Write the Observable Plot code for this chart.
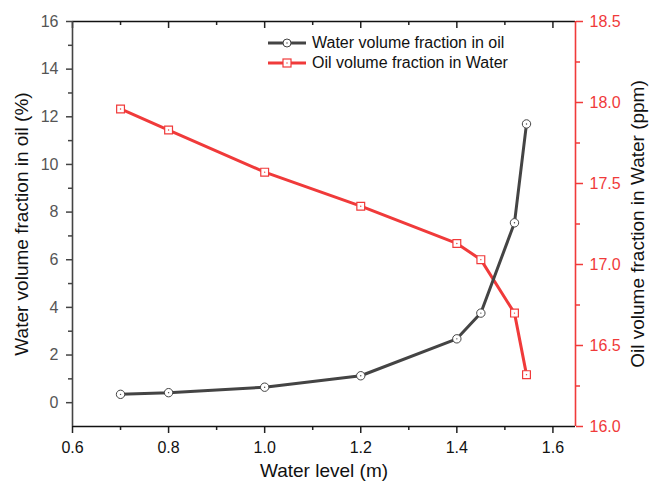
<!DOCTYPE html>
<html><head><meta charset="utf-8">
<script src="https://cdn.jsdelivr.net/npm/d3@7"></script>
<script src="https://cdn.jsdelivr.net/npm/@observablehq/plot@0.6"></script>
<style>
body{margin:0;background:#fff;font-family:"Liberation Sans",Arial,sans-serif}
#wrap{position:relative;width:649px;height:489px}
#legend{position:absolute;left:266px;top:33px;font-size:16px;color:#111;line-height:20px}
#legend div{display:flex;align-items:center;height:20px}
#legend svg{margin-right:4px}
</style></head><body>
<div id="wrap"><div id="legend"></div></div>
<script>
const waterLevel = [0.7, 0.8, 1.0, 1.2, 1.4, 1.45, 1.52, 1.545];
const waterInOil = [0.35, 0.42, 0.65, 1.13, 2.68, 3.76, 7.55, 11.7];
const oilInWater = [17.96, 17.83, 17.57, 17.36, 17.13, 17.03, 16.70, 16.32];
const xTicks = [0.6, 0.8, 1.0, 1.2, 1.4, 1.6];
const xMinor = [0.7, 0.9, 1.1, 1.3, 1.5];
const yTicks = [0, 2, 4, 6, 8, 10, 12, 14, 16];
const yMinor = [1, 3, 5, 7, 9, 11, 13, 15];
const rTicks = [16.0, 16.5, 17.0, 17.5, 18.0, 18.5];
const rMinor = [16.25, 16.75, 17.25, 17.75, 18.25];
const seriesNames = ["Water volume fraction in oil", "Oil volume fraction in Water"];
const xLabel = "Water level (m)";
const yLabel = "Water volume fraction in oil (%)";
const y2Label = "Oil volume fraction in Water (ppm)";

const RED = "#f03a3a";
const GRAY = "#444";
const yDom = [-1, 16], rDom = [16, 18.5];
const toLeft = v => yDom[0] + (v - rDom[0]) * (yDom[1] - yDom[0]) / (rDom[1] - rDom[0]);
const fromLeft = v => rDom[0] + (v - yDom[0]) * (rDom[1] - rDom[0]) / (yDom[1] - yDom[0]);

const black = waterLevel.map((x, i) => ({x, y: waterInOil[i]}));
const red = waterLevel.map((x, i) => ({x, y: toLeft(oilInWater[i])}));

const W = 649, H = 489, mt = 21, mb = 63, ml = 72, mr = 74;
const fh = H - mt - mb;

const chart = Plot.plot({
  width: W, height: H,
  marginTop: mt, marginBottom: mb, marginLeft: ml, marginRight: mr,
  x: {domain: [0.6, 1.647], axis: null},
  y: {domain: yDom, axis: null},
  style: {fontFamily: '"Liberation Sans", Arial, sans-serif', fontSize: "16px", background: "#fff"},
  marks: [
    // bottom axis
    Plot.axisX(xTicks, {anchor: "bottom", tickSize: 7, tickPadding: 8, strokeWidth: 1.5, stroke: "#222", fill: "#111", tickFormat: d => d.toFixed(1), label: null}),
    Plot.axisX(xMinor, {anchor: "bottom", tickSize: 4, strokeWidth: 1.5, stroke: "#222", tickFormat: () => "", label: null}),
    // top inward ticks
    Plot.tickX(xTicks, {x: d => d, insetBottom: fh - 7, stroke: "#222", strokeWidth: 1.5}),
    Plot.tickX(xMinor, {x: d => d, insetBottom: fh - 4, stroke: "#222", strokeWidth: 1.5}),
    // left axis
    Plot.axisY(yTicks, {anchor: "left", tickSize: 6, tickPadding: 8, strokeWidth: 1.5, stroke: GRAY, fill: "#555", label: null}),
    Plot.axisY(yMinor, {anchor: "left", tickSize: 4, strokeWidth: 1.5, stroke: GRAY, tickFormat: () => "", label: null}),
    // right axis
    Plot.axisY(rTicks.map(toLeft), {anchor: "right", tickSize: 7, tickPadding: 7, strokeWidth: 1.5, stroke: RED, fill: RED, tickFormat: d => fromLeft(d).toFixed(1), label: null}),
    Plot.axisY(rMinor.map(toLeft), {anchor: "right", tickSize: 4, strokeWidth: 1.5, stroke: RED, tickFormat: () => "", label: null}),
    // frame lines
    Plot.ruleY([16], {stroke: "#111", strokeWidth: 1.6}),
    Plot.ruleY([-1], {stroke: "#111", strokeWidth: 1.6}),
    Plot.ruleX([0.6], {stroke: GRAY, strokeWidth: 1.6}),
    Plot.ruleX([1.647], {stroke: RED, strokeWidth: 1.6}),
    // series
    Plot.line(red, {x: "x", y: "y", stroke: RED, strokeWidth: 3}),
    Plot.line(black, {x: "x", y: "y", stroke: GRAY, strokeWidth: 3}),
    Plot.dot(black, {x: "x", y: "y", r: 4.2, symbol: "circle", fill: "#fff", stroke: GRAY, strokeWidth: 1}),
    Plot.dot(black, {x: "x", y: "y", r: 0.7, fill: GRAY}),
    Plot.dot(red, {x: "x", y: "y", r: 4.4, symbol: "square", fill: "#fff", stroke: RED, strokeWidth: 1.2}),
    Plot.dot(red, {x: "x", y: "y", r: 0.7, fill: RED}),
    // titles
    Plot.text([xLabel], {frameAnchor: "bottom", dy: 50, fontSize: 19, fill: "#111", textAnchor: "middle"}),
    Plot.text([yLabel], {frameAnchor: "left", dx: -51, rotate: -90, fontSize: 19, fill: "#111", textAnchor: "middle"}),
    Plot.text([y2Label], {frameAnchor: "right", dx: 62, rotate: -90, fontSize: 19, fill: "#111", textAnchor: "middle"})
  ]
});
document.getElementById("wrap").prepend(chart);

const leg = document.getElementById("legend");
const sw = (color, shape) => {
  const mk = shape === "circle"
    ? `<circle cx="21" cy="8" r="4" fill="#fff" stroke="${color}" stroke-width="1"/><circle cx="21" cy="8" r="0.7" fill="${color}"/>`
    : `<rect x="17" y="4" width="8" height="8" fill="#fff" stroke="${color}" stroke-width="1.2"/><circle cx="21" cy="8" r="0.7" fill="${color}"/>`;
  return `<svg width="42" height="16"><line x1="2" x2="40" y1="8" y2="8" stroke="${color}" stroke-width="3"/>${mk}</svg>`;
};
leg.innerHTML = `<div>${sw(GRAY, "circle")}<span>${seriesNames[0]}</span></div><div>${sw(RED, "square")}<span>${seriesNames[1]}</span></div>`;
</script>
</body></html>
